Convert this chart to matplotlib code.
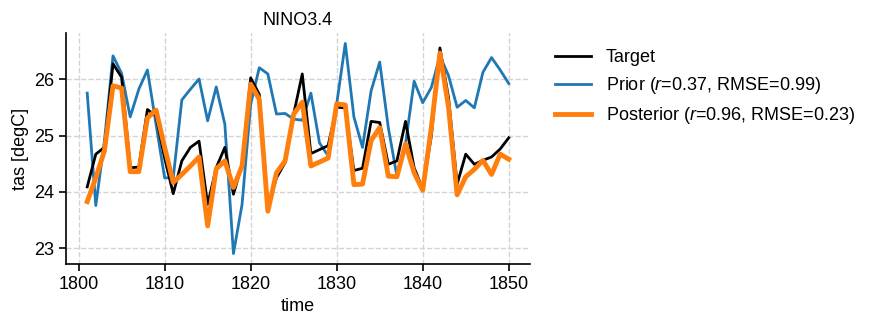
import numpy as np
import matplotlib
matplotlib.use("Agg")
import matplotlib.pyplot as plt

plt.rcParams["font.family"] = ["Liberation Sans", "DejaVu Sans"]
plt.rcParams["mathtext.fontset"] = "custom"
plt.rcParams["mathtext.rm"] = "Liberation Sans"
plt.rcParams["mathtext.it"] = "Liberation Sans:italic"

years = np.arange(1801, 1851)

# NINO3.4 annual mean tas (degC)
target = [
    24.09, 24.67, 24.79, 26.27, 26.03, 24.43, 24.44, 25.46, 25.35, 24.60,
    23.97, 24.55, 24.79, 24.90, 23.78, 24.43, 24.79, 23.96, 24.49, 26.02,
    25.73, 23.75, 24.25, 24.52, 25.38, 26.09, 24.68, 24.75, 24.82, 25.50,
    25.49, 24.38, 24.42, 25.25, 25.23, 24.49, 24.55, 25.25, 24.43, 24.05,
    24.99, 26.55, 25.67, 24.14, 24.67, 24.49, 24.56, 24.62, 24.76, 24.96,
]
prior = [
    25.75, 23.76, 24.90, 26.41, 26.10, 25.33, 25.82, 26.16, 25.20, 24.25,
    24.25, 25.63, 25.82, 26.00, 25.26, 25.86, 25.20, 22.91, 23.78, 25.55,
    26.20, 26.09, 25.38, 25.39, 25.29, 25.27, 25.75, 24.87, 24.64, 25.56,
    26.63, 25.33, 24.79, 25.79, 26.30, 25.14, 24.28, 24.85, 25.96, 25.58,
    25.85, 26.41, 26.06, 25.50, 25.62, 25.49, 26.12, 26.38, 26.16, 25.92,
]
posterior = [
    23.83, 24.25, 24.73, 25.88, 25.84, 24.36, 24.36, 25.31, 25.45, 24.79,
    24.17, 24.31, 24.46, 24.62, 23.40, 24.41, 24.55, 24.08, 24.46, 25.91,
    25.64, 23.66, 24.34, 24.55, 25.38, 25.59, 24.46, 24.53, 24.60, 25.56,
    25.54, 24.13, 24.14, 24.91, 25.14, 24.28, 24.27, 24.85, 24.34, 24.03,
    25.14, 26.46, 25.50, 23.95, 24.27, 24.40, 24.56, 24.31, 24.67, 24.58,
]
prior_stats = (0.37, 0.99)
post_stats = (0.96, 0.23)

fig = plt.figure(figsize=(8.7, 3.26), dpi=100)
ax = fig.add_axes([0.076, 0.19, 0.533, 0.709])

ax.plot(years, target, color="black", lw=2, label="Target", zorder=3)
ax.plot(years, prior, color="#1f77b4", lw=2,
        label=f"Prior ($r$={prior_stats[0]:.2f}, RMSE={prior_stats[1]:.2f})", zorder=2)
ax.plot(years, posterior, color="#ff7f0e", lw=3.5,
        label=f"Posterior ($r$={post_stats[0]:.2f}, RMSE={post_stats[1]:.2f})", zorder=4)

ax.set_title("NINO3.4", fontsize=13)
ax.set_xlabel("time", fontsize=13)
ax.set_ylabel("tas [degC]", fontsize=13)
ax.set_xticks(np.arange(1800, 1851, 10))
ax.set_yticks([23, 24, 25, 26])
ax.tick_params(labelsize=13, width=1.2, length=5)

ax.grid(True, ls="--", color="lightgray", lw=1)
ax.set_axisbelow(True)
for side in ["top", "right"]:
    ax.spines[side].set_visible(False)
for side in ["left", "bottom"]:
    ax.spines[side].set_linewidth(1.2)

ax.legend(loc="upper left", bbox_to_anchor=(1.02, 1.0), frameon=False, fontsize=13)

fig.savefig("out.png", dpi=100)
